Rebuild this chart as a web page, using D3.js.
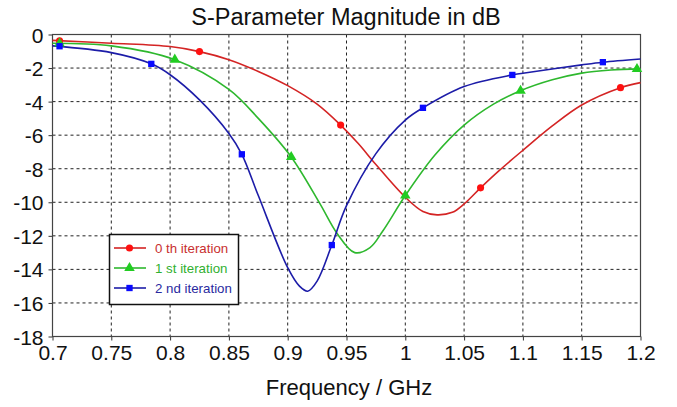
<!DOCTYPE html>
<html><head><meta charset="utf-8">
<script src="https://cdn.jsdelivr.net/npm/d3@7"></script>
<style>body{margin:0;background:#fff}svg{display:block}text{font-family:"Liberation Sans",Arial,sans-serif}</style>
</head><body><svg id="c" width="677" height="407"></svg>
<script>
const title = "S-Parameter Magnitude in dB";
const xLabel = "Frequency / GHz";
const xTicks = [0.7,0.75,0.8,0.85,0.9,0.95,1,1.05,1.1,1.15,1.2];
const yTicks = [0,-2,-4,-6,-8,-10,-12,-14,-16,-18];
const seriesNames = ["0 th iteration","1 st iteration","2 nd iteration"];

const freq0 = [0.70,0.75,0.80,0.825,0.85,0.875,0.90,0.925,0.945,0.96,0.975,1.00,1.015,1.027,1.04,1.05,1.064,1.08,1.10,1.125,1.15,1.183,1.20];
const db0   = [-0.35,-0.52,-0.72,-1.02,-1.5,-2.2,-3.05,-4.15,-5.4,-6.5,-7.75,-9.7,-10.55,-10.75,-10.6,-10.1,-9.14,-8.1,-6.9,-5.45,-4.2,-3.17,-2.87];
const freq1 = [0.70,0.75,0.804,0.85,0.875,0.903,0.9275,0.942,0.957,0.97,0.981,1.00,1.025,1.05,1.075,1.098,1.125,1.15,1.175,1.20];
const db1   = [-0.52,-0.68,-1.5,-3.27,-5.0,-7.3,-10.1,-11.86,-13.0,-12.7,-11.7,-9.6,-7.2,-5.4,-4.15,-3.35,-2.7,-2.3,-2.12,-2.05];
const freq2 = [0.70,0.75,0.784,0.80,0.825,0.85,0.861,0.875,0.90,0.91,0.917,0.925,0.9375,0.95,0.975,1.00,1.015,1.05,1.091,1.10,1.15,1.168,1.20];
const db2   = [-0.68,-1.08,-1.75,-2.4,-3.9,-5.9,-7.14,-9.6,-13.9,-15.0,-15.3,-14.7,-12.55,-10.2,-7.1,-5.1,-4.37,-3.1,-2.41,-2.31,-1.81,-1.65,-1.46];

const mkFreq0 = [0.706,0.825,0.945,1.064,1.183];
const mkDb0   = [-0.38,-1.02,-5.4,-9.14,-3.17];
const mkFreq1 = [0.706,0.804,0.903,1.00,1.098,1.197];
const mkDb1   = [-0.53,-1.5,-7.3,-9.6,-3.35,-2.06];
const mkFreq2 = [0.706,0.784,0.861,0.9375,1.015,1.091,1.168];
const mkDb2   = [-0.7,-1.75,-7.14,-12.55,-4.37,-2.41,-1.65];

const lineColors = ["#d42424","#2eb82e","#1c1ca8"];
const markColors = ["#ff1010","#22cc22","#0a0aff"];
const textColors = ["#c83030","#30b030","#2a2aa0"];
const shapes = [d3.symbolCircle, d3.symbolTriangle, d3.symbolSquare];

const svg = d3.select("#c");
const L = 52.5, R = 640.5, T = 34.5, B = 336.5;
const x = d3.scaleLinear().domain([0.7,1.2]).range([L,R]);
const y = d3.scaleLinear().domain([0,-18]).range([T,B]);

// grid
const g = svg.append("g");
g.selectAll(".gx").data(xTicks.slice(1,-1)).join("line")
  .attr("x1",d=>x(d)).attr("x2",d=>x(d)).attr("y1",T).attr("y2",B)
  .attr("stroke","#222").attr("stroke-width",1).attr("stroke-dasharray","3,3");
g.selectAll(".gy").data(yTicks.slice(1,-1)).join("line")
  .attr("y1",d=>y(d)).attr("y2",d=>y(d)).attr("x1",L).attr("x2",R)
  .attr("stroke","#222").attr("stroke-width",1).attr("stroke-dasharray","3,3");

// axes
const xa = svg.append("g").attr("transform",`translate(0,${B})`)
  .call(d3.axisBottom(x).tickValues(xTicks).tickFormat(d=>String(d)).tickSize(4).tickPadding(4));
const ya = svg.append("g").attr("transform",`translate(${L},0)`)
  .call(d3.axisLeft(y).tickValues(yTicks).tickFormat(d=>String(d)).tickSize(4).tickPadding(5));
[xa,ya].forEach(a=>{
  a.select(".domain").remove();
  a.selectAll("line").attr("stroke","#333");
  a.selectAll("text").attr("font-size",21).attr("fill","#111").attr("font-family","Liberation Sans");
});
ya.selectAll("text").attr("dy","0.36em");
xa.selectAll("text").attr("dy","0.72em");

// frame
svg.append("rect").attr("x",L).attr("y",T).attr("width",R-L).attr("height",B-T)
  .attr("fill","none").attr("stroke","#444").attr("stroke-width",1.2);

// series
const series = [
  {f:freq0,v:db0,mf:mkFreq0,mv:mkDb0},
  {f:freq1,v:db1,mf:mkFreq1,mv:mkDb1},
  {f:freq2,v:db2,mf:mkFreq2,mv:mkDb2}
];
const line = d3.line().x(d=>x(d[0])).y(d=>y(d[1])).curve(d3.curveCatmullRom.alpha(0.5));
const plot = svg.append("g");
series.forEach((s,i)=>{
  const pts = s.f.map((f,j)=>[f,s.v[j]]);
  plot.append("path").attr("d",line(pts)).attr("fill","none")
    .attr("stroke",lineColors[i]).attr("stroke-width",1.6);
});
series.forEach((s,i)=>{
  const mp = s.mf.map((f,j)=>[f,s.mv[j]]);
  plot.selectAll(null).data(mp).join("path")
    .attr("transform",d=>`translate(${x(d[0])},${y(d[1])})`)
    .attr("d",d3.symbol().type(shapes[i]).size(i===1?48:40))
    .attr("fill",markColors[i]);
});

// title & label
svg.append("text").attr("x",346).attr("y",25).attr("text-anchor","middle")
  .attr("font-size",23.5).attr("fill","#111").text(title);
svg.append("text").attr("x",349).attr("y",395).attr("text-anchor","middle")
  .attr("font-size",22).attr("fill","#111").text(xLabel);

// legend
const lg = svg.append("g");
lg.append("rect").attr("x",109.5).attr("y",234.5).attr("width",129).attr("height",70)
  .attr("fill","#fff").attr("stroke","#111").attr("stroke-width",1.5);
seriesNames.forEach((n,i)=>{
  const yy = 248 + i*20;
  lg.append("line").attr("x1",114).attr("x2",146).attr("y1",yy).attr("y2",yy)
    .attr("stroke",lineColors[i]).attr("stroke-width",1.6);
  lg.append("path").attr("transform",`translate(129.5,${yy})`)
    .attr("d",d3.symbol().type(shapes[i]).size(i===1?48:40)).attr("fill",markColors[i]);
  lg.append("text").attr("x",155).attr("y",yy).attr("dy","0.36em")
    .attr("font-size",13.3).attr("fill",textColors[i]).text(n);
});
</script></body></html>
